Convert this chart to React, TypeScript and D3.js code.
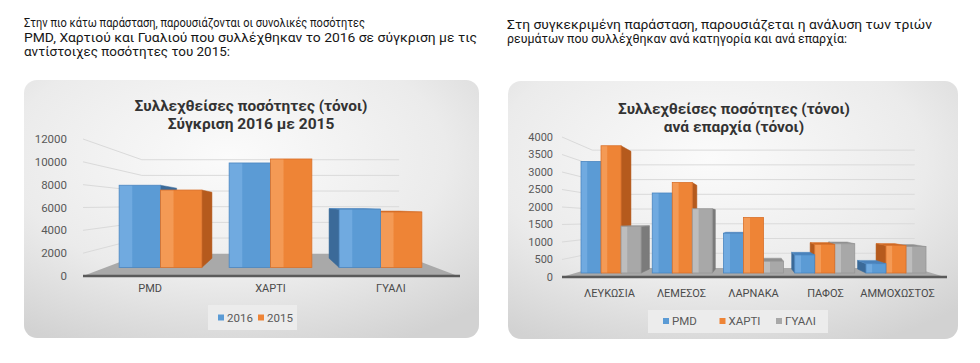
import React from 'react';
import * as d3 from 'd3';

// ---------- texts ----------
const introLeft = [
  'Στην πιο κάτω παράσταση, παρουσιάζονται οι συνολικές ποσότητες',
  'PMD, Χαρτιού και Γυαλιού που συλλέχθηκαν το 2016 σε σύγκριση με τις',
  'αντίστοιχες ποσότητες του 2015:',
];
const introRight = [
  'Στη συγκεκριμένη παράσταση, παρουσιάζεται η ανάλυση των τριών',
  'ρευμάτων που συλλέχθηκαν ανά κατηγορία και ανά επαρχία:',
];

// ---------- left chart data ----------
const leftTitle = ['Συλλεχθείσες ποσότητες (τόνοι)', 'Σύγκριση 2016 με 2015'];
const materials = ['PMD', 'ΧΑΡΤΙ', 'ΓΥΑΛΙ'];
const years = ['2016', '2015'];
const values2016 = [7950, 9900, 5850];
const values2015 = [7530, 10250, 5600];
const leftTicks = [0, 2000, 4000, 6000, 8000, 10000, 12000];

// ---------- right chart data ----------
const rightTitle = ['Συλλεχθείσες ποσότητες (τόνοι)', 'ανά επαρχία (τόνοι)'];
const districts = ['ΛΕΥΚΩΣΙΑ', 'ΛΕΜΕΣΟΣ', 'ΛΑΡΝΑΚΑ', 'ΠΑΦΟΣ', 'ΑΜΜΟΧΩΣΤΟΣ'];
const streams = ['PMD', 'ΧΑΡΤΙ', 'ΓΥΑΛΙ'];
const pmdByDistrict = [3300, 2400, 1250, 630, 380];
const paperByDistrict = [3750, 2700, 1700, 930, 900];
const glassByDistrict = [1450, 1950, 450, 950, 870];
const rightTicks = [0, 500, 1000, 1500, 2000, 2500, 3000, 3500, 4000];

type Shade = { front: string; light: string; side: string; top: string; edge: string };
const BLUE: Shade = { front: '#5b9bd5', light: '#70aae0', side: '#3b6a99', top: '#4a82bb', edge: '#4a86c0' };
const ORANGE: Shade = { front: '#ee8436', light: '#f49a55', side: '#b55a1d', top: '#d06a25', edge: '#d9702a' };
const GRAY: Shade = { front: '#a8a8a8', light: '#bdbdbd', side: '#7b7b7b', top: '#8f8f8f', edge: '#969696' };

const FONT = 'Roboto, "Noto Sans", sans-serif';

type Cfg = {
  id: string;
  panel: { x: number; y: number; w: number; h: number };
  x0: number; x1: number; y0: number; yTop: number; max: number;
  vp: [number, number]; kf: number; r: number; kw: number; po: number; labelK: number;
  tickX: number; tickSize: number; catY: number; titleX: number; titleY: [number, number]; titleLen: number;
  legendBox: { x: number; y: number; w: number; h: number }; legendStart: number; legendStep: number; legendY: number;
};

function Chart3D({ cfg, cats, series, data, ticks, shades, title }: {
  cfg: Cfg; cats: string[]; series: string[]; data: number[][]; ticks: number[]; shades: Shade[]; title: string[];
}) {
  const x0 = d3.scaleBand<string>().domain(cats).range([cfg.x0, cfg.x1]);
  const x1 = d3.scaleBand<string>().domain(series).range([0, x0.bandwidth()]).paddingOuter(cfg.po).paddingInner(0);
  const y = d3.scaleLinear().domain([0, cfg.max]).range([cfg.y0, cfg.yTop]);
  const [vx, vy] = cfg.vp;
  const P = (x: number, yy: number, k: number): [number, number] => [vx + (x - vx) * k, vy + (yy - vy) * k];
  const pts = (a: [number, number][]) => a.map((p) => p.join(',')).join(' ');

  const bars: { key: string; sh: Shade; sx0: number; sx1: number; yT: number; yB: number; si: number }[] = [];
  cats.forEach((c, i) => {
    series.forEach((s, j) => {
      const fx0 = (x0(c) as number) + (x1(s) as number);
      const fx1 = fx0 + x1.bandwidth();
      bars.push({
        key: c + s,
        sh: shades[j],
        si: j,
        sx0: vx + (fx0 - vx) * cfg.kf,
        sx1: vx + (fx1 - vx) * cfg.kf,
        yT: y(data[j][i]),
        yB: vy + (y(0) - vy) * cfg.kf,
      });
    });
  });
  bars.sort((a, b) => Math.abs((b.sx0 + b.sx1) / 2 - vx) - Math.abs((a.sx0 + a.sx1) / 2 - vx));

  const { panel } = cfg;
  const wallL0 = P(cfg.x0, y(0), cfg.kw);
  const wallR0 = P(cfg.x1, y(0), cfg.kw);

  return (
    <g>
      <defs>
        <radialGradient id={cfg.id + 'bg'} cx="0.45" cy="0.3" r="0.8">
          <stop offset="0" stopColor="#fbfbfb" />
          <stop offset="0.6" stopColor="#ebebeb" />
          <stop offset="1" stopColor="#d2d2d2" />
        </radialGradient>
        {shades.map((sh, j) => (
          <linearGradient key={j} id={cfg.id + 'g' + j} x1="0" y1="0" x2="1" y2="0">
            <stop offset="0" stopColor={sh.light} />
            <stop offset="0.3" stopColor={sh.light} />
            <stop offset="0.33" stopColor={sh.front} />
            <stop offset="1" stopColor={sh.front} />
          </linearGradient>
        ))}
      </defs>
      <rect x={panel.x} y={panel.y} width={panel.w} height={panel.h} rx={13} fill={`url(#${cfg.id}bg)`} />
      {ticks.filter((t) => t > 0).map((t) => {
        const a: [number, number] = [cfg.x0, y(t)];
        const b = P(cfg.x0, y(t), cfg.kw);
        const c = P(cfg.x1, y(t), cfg.kw);
        return <polyline key={t} points={pts([a, b, c])} fill="none" stroke="#dadada" strokeWidth={1} />;
      })}
      <polygon points={pts([[cfg.x0, y(0)], [cfg.x1, y(0)], wallR0, wallL0])} fill="#a9a9a9" />
      {bars.map((b) => {
        const bx0 = vx + (b.sx0 - vx) * cfg.r;
        const bx1 = vx + (b.sx1 - vx) * cfg.r;
        const byT = vy + (b.yT - vy) * cfg.r;
        const byB = vy + (b.yB - vy) * cfg.r;
        const faces: JSX.Element[] = [];
        if (b.sx1 < vx) {
          faces.push(<polygon key="s" points={pts([[b.sx1, b.yT], [bx1, byT], [bx1, byB], [b.sx1, b.yB]])} fill={b.sh.side} stroke={b.sh.side} strokeWidth={0.5} />);
        } else if (b.sx0 > vx) {
          faces.push(<polygon key="s" points={pts([[b.sx0, b.yT], [bx0, byT], [bx0, byB], [b.sx0, b.yB]])} fill={b.sh.side} stroke={b.sh.side} strokeWidth={0.5} />);
        }
        if (b.yT > vy) {
          faces.push(<polygon key="t" points={pts([[b.sx0, b.yT], [b.sx1, b.yT], [bx1, byT], [bx0, byT]])} fill={b.sh.top} stroke={b.sh.edge} strokeWidth={0.5} />);
        }
        return (
          <g key={b.key}>
            {faces}
            <rect x={b.sx0} y={b.yT} width={b.sx1 - b.sx0} height={b.yB - b.yT} fill={`url(#${cfg.id}g${b.si})`} stroke={b.sh.edge} strokeWidth={0.8} />
          </g>
        );
      })}
      <line x1={cfg.x0} x2={cfg.x1 + 2} y1={y(0)} y2={y(0)} stroke="#5a5a5a" strokeWidth={2.5} />
      {ticks.map((t) => (
        <text key={t} x={cfg.tickX} y={y(t)} dy="0.36em" textAnchor="end" fontSize={cfg.tickSize} fill="#595959" fontFamily={FONT}>{t}</text>
      ))}
      {cats.map((c) => (
        <text key={c} x={vx + ((x0(c) as number) + x0.bandwidth() / 2 - vx) * cfg.labelK} y={cfg.catY} dy="0.36em" textAnchor="middle" fontSize={11} fill="#4a4a4a" fontFamily={FONT}>{c}</text>
      ))}
      <text x={cfg.titleX} y={cfg.titleY[0]} dy="0.36em" textAnchor="middle" fontSize={15.5} fontWeight="bold" fill="#333333" fontFamily={FONT} textLength={cfg.titleLen} lengthAdjust="spacingAndGlyphs">{title[0]}</text>
      <text x={cfg.titleX} y={cfg.titleY[1]} dy="0.36em" textAnchor="middle" fontSize={15.5} fontWeight="bold" fill="#333333" fontFamily={FONT}>{title[1]}</text>
      <rect x={cfg.legendBox.x} y={cfg.legendBox.y} width={cfg.legendBox.w} height={cfg.legendBox.h} fill="#ececec" />
      {series.map((s, j) => {
        const lx = cfg.legendStart + j * cfg.legendStep;
        return (
          <g key={s}>
            <rect x={lx} y={cfg.legendY - 3} width={6} height={6} fill={shades[j].front} />
            <text x={lx + 9} y={cfg.legendY} dy="0.36em" fontSize={11.5} fill="#595959" fontFamily={FONT}>{s}</text>
          </g>
        );
      })}
    </g>
  );
}

const leftCfg: Cfg = {
  id: 'L',
  panel: { x: 24, y: 80, w: 455, h: 258 },
  x0: 83, x1: 458, y0: 276, yTop: 139, max: 12000,
  vp: [270.5, 205], kf: 0.88, r: 0.853, kw: 0.686, po: 0.33, labelK: 0.963,
  tickX: 67, tickSize: 11.5, catY: 288, titleX: 251, titleY: [105, 123.5], titleLen: 233,
  legendBox: { x: 208, y: 305, w: 89, h: 25 }, legendStart: 218, legendStep: 40, legendY: 317.5,
};

const rightCfg: Cfg = {
  id: 'R',
  panel: { x: 508, y: 81, w: 450, h: 258 },
  x0: 562, x1: 945, y0: 277, yTop: 137, max: 4000,
  vp: [753.5, 220], kf: 0.93, r: 0.925, kw: 0.842, po: 0.28, labelK: 0.94,
  tickX: 553, tickSize: 11, catY: 293, titleX: 734, titleY: [108, 126], titleLen: 232,
  legendBox: { x: 648, y: 310, w: 180, h: 23 }, legendStart: 663, legendStep: 56.5, legendY: 321,
};

const leftLens = [341, 453, 206];
const rightLens = [425, 340];

export default function App() {
  return (
    <div style={{ position: 'absolute', left: 0, top: 0 }}>
      <svg width={980} height={363} viewBox="0 0 980 363" style={{ display: 'block', background: '#ffffff' }}>
        {introLeft.map((t, i) => (
          <text key={'l' + i} x={24} y={22.5 + i * 14.5} dy="0.36em" fontSize={12.5} fill="#161616" fontFamily={FONT} textLength={leftLens[i]} lengthAdjust="spacingAndGlyphs">{t}</text>
        ))}
        {introRight.map((t, i) => (
          <text key={'r' + i} x={507} y={24 + i * 14.5} dy="0.36em" fontSize={12.5} fill="#161616" fontFamily={FONT} textLength={rightLens[i]} lengthAdjust="spacingAndGlyphs">{t}</text>
        ))}
        <Chart3D cfg={leftCfg} cats={materials} series={years} data={[values2016, values2015]} ticks={leftTicks} shades={[BLUE, ORANGE]} title={leftTitle} />
        <Chart3D cfg={rightCfg} cats={districts} series={streams} data={[pmdByDistrict, paperByDistrict, glassByDistrict]} ticks={rightTicks} shades={[BLUE, ORANGE, GRAY]} title={rightTitle} />
      </svg>
    </div>
  );
}
